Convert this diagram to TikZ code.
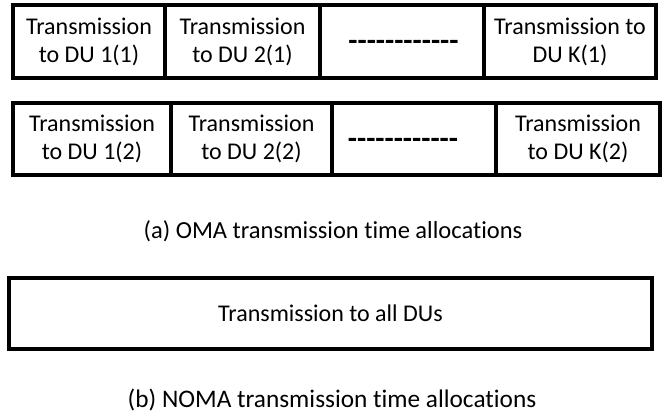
\documentclass[tikz,border=0pt]{standalone}
\usepackage{fontspec}
\setmainfont{Carlito}[Ligatures={NoCommon}]
\newcommand{\dashline}{\textbf{\mbox{-}\mbox{-}\mbox{-}\mbox{-}\mbox{-}\mbox{-}\mbox{-}\mbox{-}\mbox{-}\mbox{-}\mbox{-}\mbox{-}}}
\begin{document}
\begin{tikzpicture}[x=1pt,y=-1pt,
  cell/.style={draw, line width=3.2pt, rectangle, inner sep=0pt, outer sep=0pt,
    align=center, font=\fontsize{24}{28}\selectfont},
  dots/.style={inner sep=0pt, font=\fontsize{30}{30}\selectfont},
  capt/.style={anchor=base, inner sep=0pt}]
\useasboundingbox (0,0) rectangle (665,413);

% OMA frame, first round
\node[cell, minimum width=152pt, minimum height=73pt] (a1) at (89,41.5) {Transmission\\to DU 1(1)};
\node[cell, minimum width=155pt, minimum height=73pt] (a2) at (242.5,41.5) {Transmission\\to DU 2(1)};
\node[cell, minimum width=164pt, minimum height=73pt] (a3) at (402,41.5) {};
\node[cell, minimum width=172pt, minimum height=73pt] (a4) at (570,41.5) {Transmission to\\DU K(1)};
\node[dots] (ad) at (403.5,45) {\dashline};

% OMA frame, second round
\node[cell, minimum width=158pt, minimum height=72pt] (b1) at (92,139) {Transmission\\to DU 1(2)};
\node[cell, minimum width=161pt, minimum height=72pt] (b2) at (251.5,139) {Transmission\\to DU 2(2)};
\node[cell, minimum width=164pt, minimum height=72pt] (b3) at (414,139) {};
\node[cell, minimum width=164pt, minimum height=72pt] (b4) at (578,139) {Transmission\\to DU K(2)};
\node[dots] (bd) at (403,143) {\dashline};

\node[capt, font=\fontsize{24.5}{30}\selectfont] (capa) at (333,238) {(a) OMA transmission time allocations};

% NOMA frame
\node[cell, minimum width=643pt, minimum height=71pt] (c1) at (330.5,313.5) {Transmission to all DUs};

\node[capt, font=\fontsize{25.3}{30}\selectfont] (capb) at (332,407) {(b) NOMA transmission time allocations};
\end{tikzpicture}
\end{document}
